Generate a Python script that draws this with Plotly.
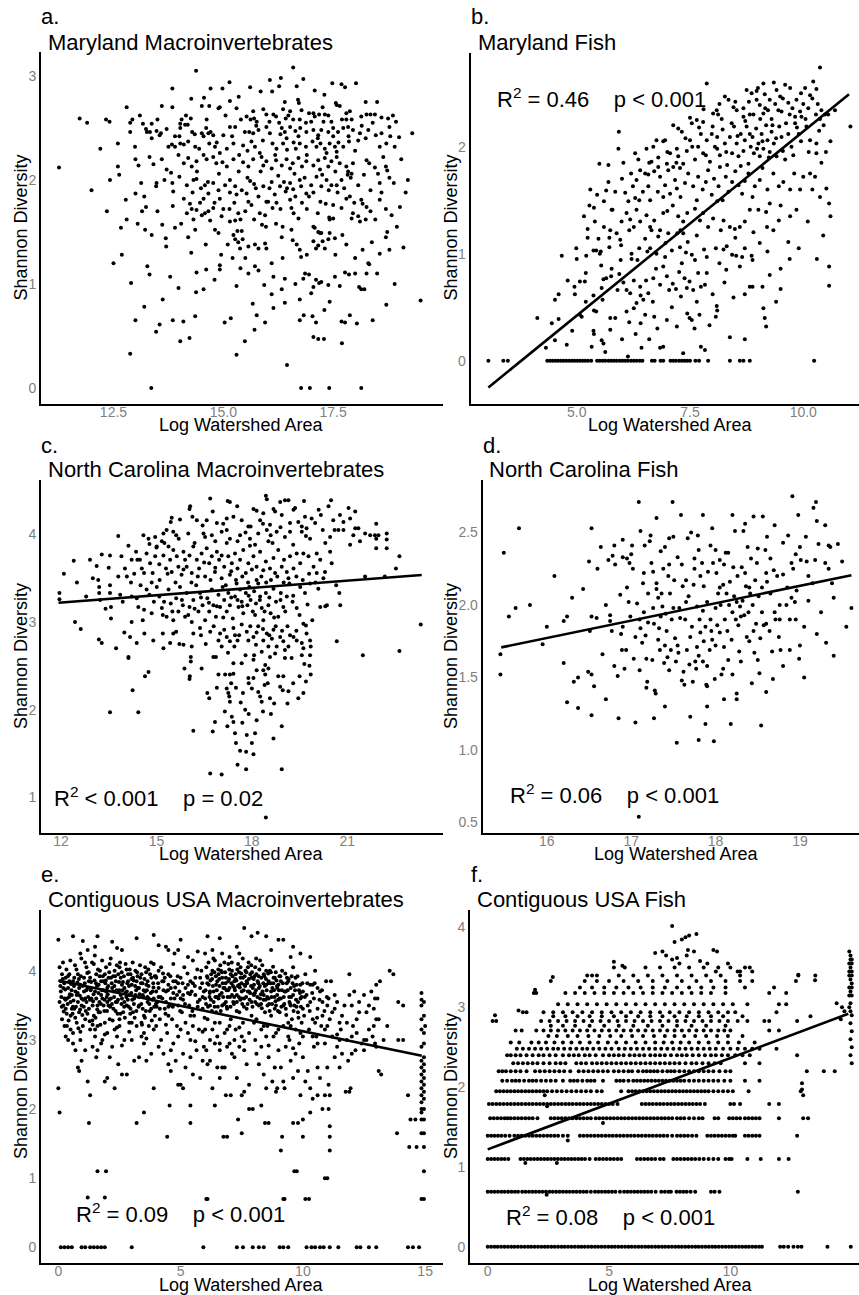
import plotly.graph_objects as go

W, H = 859, 1295
FONT = "Liberation Sans, Arial, Helvetica, sans-serif"
TICK_GREY = "#7f7f7f"

# ---------------- a. Maryland Macroinvertebrates ----------------
a_points = [
    (14.38,3.05),(16.59,3.08),(16.31,2.98),(16.06,2.96),(16.82,2.97),(15.14,2.94),(14.98,2.88),(14.71,2.88),
    (13.84,2.88),(15.61,2.89),(16.27,2.90),(16.11,2.85),(16.67,2.90),(17.08,2.86),(17.48,2.93),(17.69,2.92),
    (17.77,2.89),(18.02,2.93),(14.56,2.79),(14.27,2.78),(15.15,2.76),(16.70,2.77),(16.72,2.74),(17.56,2.74),
    (18.24,2.75),(12.80,2.70),(13.60,2.71),(13.84,2.70),(14.51,2.71),(14.68,2.71),(14.89,2.69),(14.92,2.70),
    (15.30,2.69),(15.68,2.66),(15.91,2.68),(16.14,2.63),(16.36,2.68),(16.52,2.66),(16.78,2.67),(17.05,2.64),
    (17.26,2.70),(17.39,2.62),(17.58,2.72),(17.65,2.71),(17.80,2.64),(17.88,2.66),(11.73,2.59),(12.33,2.58),
    (12.41,2.56),(12.88,2.55),(12.93,2.58),(13.17,2.54),(13.37,2.54),(14.02,2.54),(14.05,2.58),(14.26,2.59),
    (15.53,2.61),(15.62,2.58),(15.70,2.59),(15.76,2.56),(15.98,2.63),(16.20,2.61),(16.27,2.55),(16.42,2.59),
    (16.59,2.58),(16.74,2.58),(16.88,2.55),(17.08,2.61),(17.18,2.63),(17.31,2.63),(17.46,2.56),(17.80,2.58),
    (17.92,2.58),(18.14,2.61),(18.26,2.63),(18.35,2.63),(18.45,2.63),(18.86,2.62),(18.75,2.59),
    (12.88,2.46),(13.24,2.49),(13.26,2.46),(13.33,2.46),(13.48,2.47),(13.55,2.43),(13.58,2.45),(13.71,2.49),
    (13.90,2.42),(14.02,2.50),(14.13,2.53),(14.19,2.53),(14.29,2.46),(14.51,2.45),(14.55,2.42),(14.61,2.50),
    (14.66,2.45),(14.71,2.46),(14.77,2.43),(15.00,2.43),(15.15,2.51),(15.27,2.51),(15.49,2.46),(15.59,2.46),
    (15.68,2.45),(15.80,2.48),(15.98,2.51),(16.06,2.45),(16.33,2.50),(16.40,2.46),(16.44,2.40),(16.52,2.51),
    (16.64,2.47),(16.71,2.42),(16.89,2.46),(17.05,2.48),(17.16,2.43),(17.23,2.48),(17.39,2.46),(17.50,2.42),
    (17.61,2.46),(17.73,2.50),(17.84,2.51),(17.95,2.48),(18.11,2.45),(18.30,2.48),(18.47,2.43),(18.93,2.56),
    (18.78,2.51),(19.00,2.41),(18.90,2.32),
    (12.99,2.32),(13.37,2.40),(13.83,2.34),(13.90,2.32),(14.02,2.35),(14.10,2.34),(14.20,2.37),(14.36,2.32),
    (14.45,2.30),(14.68,2.35),(14.81,2.32),(15.08,2.30),(15.23,2.35),(15.45,2.33),(15.64,2.37),(15.72,2.32),
    (15.83,2.26),(16.12,2.35),(16.21,2.30),(16.36,2.35),(16.45,2.29),(16.65,2.30),(16.74,2.35),(16.88,2.32),
    (17.03,2.37),(17.12,2.32),(17.21,2.35),(17.31,2.30),(17.42,2.35),(17.54,2.32),(17.58,2.27),(17.73,2.32),
    (17.86,2.37),(18.07,2.38),(18.24,2.40),(18.56,2.32),(18.71,2.35),
    (11.26,2.12),(12.60,2.13),(12.63,2.05),(13.07,2.14),(13.32,2.22),(13.41,2.15),(13.71,2.10),(13.81,2.07),
    (13.98,2.24),(14.10,2.16),(14.20,2.21),(14.28,2.13),(14.39,2.18),(14.55,2.24),(14.62,2.20),(14.77,2.22),
    (14.84,2.16),(14.92,2.26),(14.98,2.17),(15.08,2.13),(15.23,2.20),(15.36,2.24),(15.45,2.17),(15.57,2.13),
    (15.68,2.20),(15.87,2.22),(15.91,2.14),(15.98,2.18),(16.10,2.11),(16.20,2.19),(16.33,2.14),(16.44,2.20),
    (16.52,2.11),(16.58,2.16),(16.71,2.21),(16.79,2.13),(16.89,2.18),(17.05,2.14),(17.16,2.19),(17.20,2.10),
    (17.31,2.21),(17.39,2.13),(17.46,2.18),(17.58,2.22),(17.65,2.16),(17.80,2.13),(17.84,2.08),(17.92,2.06),
    (17.95,2.16),(18.26,2.19),(18.32,2.16),(18.64,2.22),(18.70,2.13),(18.73,2.09),(18.52,2.06),
    (12.42,2.00),(13.00,1.87),(13.13,1.97),(13.20,1.84),(13.47,1.94),(13.48,1.97),(13.66,2.00),(13.84,1.97),
    (13.86,1.89),(14.00,2.03),(14.17,1.95),(14.32,2.00),(14.39,2.01),(14.49,1.92),(14.58,1.95),(14.66,1.87),
    (14.77,1.97),(14.89,1.90),(14.92,1.82),(15.04,1.95),(15.15,2.00),(15.27,1.94),(15.30,1.86),(15.42,1.90),
    (15.53,1.87),(15.61,1.99),(15.74,1.92),(15.80,1.84),(15.91,1.94),(15.98,1.79),(16.10,1.98),(16.17,1.86),
    (16.29,1.94),(16.38,1.98),(16.42,1.89),(16.52,1.97),(16.59,1.91),(16.64,1.84),(16.74,2.00),(16.77,1.94),
    (16.89,1.87),(17.00,1.95),(17.12,2.03),(17.23,1.94),(17.35,2.00),(17.46,1.95),(17.58,1.95),(17.69,2.00),
    (17.83,2.05),(18.07,1.95),(18.35,1.90),(18.56,1.97),(18.78,2.02),(18.88,1.97),(19.15,1.88),
    (12.78,1.81),(12.80,1.62),(12.67,1.54),(13.05,1.58),(13.24,1.74),(13.22,1.52),(13.37,1.47),(13.50,1.70),
    (13.61,1.57),(13.90,1.54),(14.04,1.58),(14.17,1.68),(14.24,1.77),(14.28,1.72),(14.32,1.62),(14.36,1.52),
    (14.39,1.71),(14.47,1.78),(14.51,1.66),(14.58,1.68),(14.66,1.70),(14.70,1.61),(14.77,1.73),(14.81,1.52),
    (14.89,1.49),(14.96,1.65),(15.14,1.72),(15.15,1.60),(15.27,1.61),(15.34,1.68),(15.32,1.51),(15.39,1.62),
    (15.42,1.51),(15.57,1.79),(15.64,1.76),(15.83,1.68),(15.88,1.57),(15.97,1.55),(16.02,1.79),(16.12,1.73),
    (16.21,1.78),(16.52,1.81),(16.55,1.73),(16.71,1.63),(16.79,1.78),(16.95,1.84),(17.21,1.79),(17.33,1.77),
    (17.41,1.64),(17.42,1.62),(17.50,1.63),(17.50,1.76),(17.69,1.73),(17.80,1.82),(17.88,1.84),(17.92,1.63),
    (17.95,1.68),(18.07,1.65),(18.11,1.60),(18.14,1.81),(18.17,1.77),(18.26,1.74),(18.24,1.62),(18.46,1.62),
    (18.56,1.81),(18.83,1.66),(19.02,1.74),(18.73,1.50),(17.05,1.55),(17.16,1.50),(17.23,1.49),
    (13.69,1.44),(13.70,1.36),(14.27,1.30),(15.23,1.47),(15.27,1.43),(15.34,1.40),(15.38,1.34),(15.44,1.43),
    (15.57,1.36),(15.72,1.38),(15.80,1.34),(15.95,1.39),(15.98,1.34),(16.33,1.45),(16.55,1.52),(16.58,1.42),
    (16.67,1.38),(16.74,1.33),(16.77,1.26),(17.08,1.54),(17.05,1.41),(17.11,1.34),(17.16,1.37),(17.20,1.49),
    (17.26,1.41),(17.31,1.34),(17.39,1.43),(17.42,1.49),(17.54,1.44),(17.71,1.47),(18.17,1.33),(18.38,1.40),
    (18.56,1.29),(18.70,1.45),(18.78,1.33),(12.69,1.28),(15.21,1.25),(18.30,1.20),
    (13.27,1.17),(13.32,1.09),(12.90,1.01),(13.79,1.07),(13.98,0.96),(14.39,1.11),(14.61,1.14),(14.80,1.04),
    (14.92,1.18),(14.92,1.14),(15.39,1.15),(15.57,1.10),(15.72,1.17),(15.80,1.13),(15.93,0.99),(16.10,1.20),
    (16.14,1.07),(16.33,0.95),(16.64,1.00),(16.82,1.05),(16.86,1.10),(16.95,1.09),(17.05,0.97),(17.11,1.04),
    (17.18,1.01),(17.23,1.02),(17.39,0.99),(17.54,1.07),(17.65,0.98),(17.77,1.11),(17.86,1.09),(18.09,0.97),
    (18.14,0.95),(18.21,0.95),(18.26,1.10),(18.32,1.19),(14.38,0.92),(13.62,0.85),(16.10,0.90),(16.74,0.85),
    (17.00,0.91),(17.42,0.83),(18.71,0.80),(19.49,0.84),(15.67,0.81),
    (16.14,0.77),(16.40,0.82),(16.74,0.65),(16.83,0.70),(17.03,0.69),(17.11,0.63),(13.85,0.65),(14.09,0.64),
    (14.36,0.69),(15.03,0.63),(15.17,0.67),(15.76,0.70),(15.95,0.63),(15.71,0.56),(17.69,0.64),(17.77,0.63),
    (17.88,0.70),(18.04,0.62),(13.55,0.61),(13.47,0.54),(14.02,0.45),(14.23,0.48),(15.49,0.45),(15.30,0.32),
    (17.05,0.49),(17.16,0.47),(17.29,0.47),(17.70,0.43),(12.88,0.33),(16.45,0.22),
    (13.36,0.0),(16.77,0.0),(16.97,0.0),(17.41,0.0),(18.14,0.0),
    (14.15,2.62),(14.35,2.44),(14.62,2.58),(14.85,2.36),(15.05,2.62),(15.20,2.42),(15.40,2.58),(15.55,2.28),
    (15.75,2.52),(15.90,2.38),(16.05,2.56),(16.18,2.24),(16.30,2.44),(16.48,2.62),(16.60,2.36),(16.75,2.50),
    (16.90,2.24),(17.00,2.56),(17.15,2.40),(17.28,2.56),(17.35,2.26),(17.50,2.50),(17.62,2.36),(17.70,2.58),
    (17.85,2.42),(18.00,2.28),(18.15,2.52),(18.40,2.55),(18.60,2.45),(18.80,2.42),
    (14.40,2.08),(14.65,1.98),(14.90,2.06),(15.15,1.88),(15.35,2.08),(15.55,2.02),(15.70,1.96),(15.85,2.08),
    (16.05,1.92),(16.25,2.04),(16.45,1.92),(16.62,2.06),(16.85,2.02),(17.05,1.88),(17.25,2.05),(17.40,1.90),
    (17.55,2.08),(17.75,1.92),(17.90,2.02),(18.20,2.05),(18.45,2.12),(18.60,1.88),
    (14.10,1.82),(14.30,1.88),(14.55,1.82),(14.80,1.78),(15.00,1.72),(15.25,1.78),(15.50,1.70),(15.70,1.62),
    (15.95,1.66),(16.30,1.72),(16.60,1.68),(16.90,1.72),(17.15,1.68),(17.60,1.88),(17.98,1.78),(18.35,1.70),
    (18.70,1.72),(14.00,2.42),(13.75,2.32),(13.50,2.58),(13.10,2.62),(12.60,2.35),(13.00,2.20),(13.60,2.20),
    (13.15,1.70),(13.85,1.75),(14.20,1.45),(14.60,1.38),(14.95,1.28),(15.10,1.38),(16.35,1.25),(16.90,1.28),
    (17.55,1.28),(17.80,1.38),(18.00,1.25),(18.50,1.10),(18.90,1.00),(16.40,1.05),(15.30,0.98),(14.55,0.95),
    (17.30,0.75),(18.40,0.65),(13.20,0.78),(18.00,1.10),(16.20,1.58),(16.35,1.55),(15.50,1.25),(16.95,2.64),
    (16.40,2.75),(15.35,2.80),(15.85,2.85),(17.30,2.82),(18.50,2.75),(18.60,2.60),(19.05,2.20),(19.20,2.00),
    (18.95,1.55),(19.10,1.35),(19.30,2.45),(12.20,2.30),(12.00,1.90),(12.35,1.70),(11.90,2.55),(12.50,1.20),
    (13.00,0.65),
]

# ---------------- b. Maryland Fish ----------------
b_points = [
    (4.32,0.12),(4.52,0.19),(4.78,0.15),(4.13,0.40),(4.60,0.39),(4.52,0.57),(5.07,0.43),(5.11,0.41),(5.37,0.28),
    (5.38,0.25),(5.55,0.19),(5.59,0.16),(5.63,0.08),(5.33,0.13),(5.74,0.29),(6.13,0.04),(6.43,0.12),(6.84,0.12),
    (6.91,0.13),(7.35,0.07),(7.74,0.13),(7.83,0.10),(8.38,0.22),(8.71,0.20),(5.38,0.47),(5.43,0.46),(5.57,0.57),
    (5.74,0.40),(5.85,0.40),(6.10,0.46),(6.16,0.36),(6.26,0.49),(6.41,0.35),(6.51,0.43),(6.71,0.41),(6.78,0.30),
    (6.99,0.38),(7.21,0.32),(7.44,0.44),(7.49,0.40),(7.54,0.38),(7.71,0.43),(7.93,0.33),(8.07,0.41),(8.10,0.47),
    (9.12,0.49),(9.15,0.40),(9.18,0.32),
    (4.95,0.69),(4.96,0.62),(5.07,0.74),(5.18,0.74),(4.67,0.98),(4.99,1.05),(5.21,0.98),(5.37,1.03),(5.43,1.03),
    (5.53,1.02),(5.37,0.61),(5.54,0.89),(5.59,0.76),(5.55,0.68),(5.65,0.77),(5.77,0.86),(5.76,0.79),(5.90,0.66),
    (5.94,0.81),(5.97,0.94),(6.03,0.73),(6.10,0.66),(6.18,0.63),(6.21,0.95),(6.26,0.75),(6.32,0.54),(6.40,0.69),
    (6.41,0.61),(6.47,0.57),(6.53,0.75),(6.58,0.63),(6.68,0.55),(6.69,0.77),(6.75,0.86),(6.84,0.71),(6.91,0.88),
    (6.99,0.79),(7.04,0.66),(7.12,0.72),(7.19,0.67),(7.26,0.83),(7.32,0.91),(7.38,0.77),(7.43,0.68),(7.49,0.74),
    (7.57,0.66),(7.65,0.55),(7.68,0.82),(7.74,0.69),(7.83,0.71),(7.87,0.82),(8.09,0.51),(8.26,0.73),(8.46,0.59),
    (8.60,0.88),(8.71,0.62),(8.82,0.69),(8.88,0.69),(9.10,0.69),(9.26,0.80),(9.50,0.86),(9.50,0.67),(10.57,0.88),
    (10.57,0.70),
    (5.24,1.15),(5.48,1.14),(5.51,1.00),(5.72,1.06),(5.88,1.19),(5.98,1.08),(6.16,1.22),(6.21,1.00),(6.34,0.94),
    (6.38,1.05),(6.51,1.14),(6.56,1.02),(6.62,1.05),(6.76,1.00),(6.80,1.16),(6.95,0.97),(7.02,1.19),(7.10,1.03),
    (7.22,1.19),(7.28,1.06),(7.35,1.19),(7.41,1.01),(7.45,1.11),(7.54,0.99),(7.61,0.94),(7.65,1.17),(7.81,1.04),
    (7.87,0.97),(8.07,1.05),(8.15,0.91),(8.24,1.04),(8.31,1.07),(8.43,0.99),(8.52,0.98),(8.65,0.97),(8.71,1.05),
    (8.86,0.98),(8.88,0.94),(9.04,1.10),(9.21,1.02),(9.67,1.11),(10.44,1.17),(5.74,1.22),(5.72,1.15),(5.96,1.13),
    (6.65,1.22),(6.96,1.10),
    (5.16,1.35),(5.24,1.23),(5.38,1.43),(5.40,1.30),(5.60,1.25),(5.77,1.41),(5.99,1.30),(6.10,1.38),(6.18,1.32),
    (6.26,1.25),(6.32,1.41),(6.40,1.30),(6.54,1.36),(6.62,1.25),(6.71,1.31),(6.84,1.22),(6.91,1.38),(7.00,1.40),
    (7.12,1.45),(7.24,1.35),(7.29,1.22),(7.35,1.30),(7.44,1.38),(7.61,1.42),(7.72,1.31),(7.79,1.38),(7.90,1.25),
    (8.01,1.33),(8.10,1.49),(8.18,1.22),(8.24,1.31),(8.38,1.25),(8.49,1.23),(8.60,1.25),(8.71,1.30),(8.82,1.41),
    (9.01,1.41),(9.18,1.39),(9.34,1.22),(9.46,1.31),(9.71,1.35),(9.85,1.41),
    (5.60,1.49),(5.65,1.59),(5.70,1.67),(5.79,1.41),(6.07,1.57),(6.14,1.49),(6.24,1.63),(6.29,1.52),(6.32,1.69),
    (6.38,1.50),(6.46,1.58),(6.51,1.75),(6.58,1.63),(6.62,1.50),(6.65,1.86),(6.71,1.77),(6.79,1.58),(6.84,1.72),
    (6.91,1.53),(6.95,1.64),(7.02,1.78),(7.06,1.56),(7.17,1.69),(7.21,1.61),(7.28,1.80),(7.29,1.53),(7.39,1.66),
    (7.46,1.75),(7.57,1.63),(7.65,1.50),(7.68,1.72),(7.78,1.60),(7.85,1.67),(7.90,1.78),(7.98,1.55),(8.03,1.70),
    (8.13,1.63),(8.16,1.81),(8.22,1.50),(8.29,1.72),(8.35,1.58),(8.43,1.67),(8.50,1.77),(8.57,1.64),(8.65,1.56),
    (8.71,1.68),(8.79,1.75),(8.88,1.53),(8.93,1.63),(9.04,1.69),(9.10,1.80),(9.21,1.60),(9.26,1.47),(9.34,1.75),
    (9.46,1.63),(9.56,1.67),(9.71,1.60),(9.93,1.60),(10.00,1.72),(10.15,1.75),(10.26,1.72),(10.37,1.53),
    (10.51,1.61),(10.57,1.47),(5.28,1.45),
    (5.70,1.83),(6.03,1.85),(5.92,1.98),(6.29,1.94),(6.36,1.88),(6.54,1.98),(6.58,1.74),(6.69,2.00),(6.76,2.06),
    (6.80,1.81),(6.91,2.05),(6.99,1.84),(7.06,1.94),(7.13,1.81),(7.21,1.98),(7.24,1.91),(7.32,2.14),(7.35,1.84),
    (7.43,1.96),(7.50,2.06),(7.54,2.22),(7.61,1.88),(7.68,2.00),(7.74,2.12),(7.79,1.94),(7.87,2.06),(7.94,1.86),
    (8.00,2.19),(8.05,2.00),(8.10,2.09),(8.16,1.92),(8.22,2.16),(8.27,2.03),(8.32,1.83),(8.38,2.09),(8.43,1.94),
    (8.47,2.19),(8.53,2.03),(8.57,1.91),(8.62,2.12),(8.68,1.96),(8.71,2.06),(8.75,2.19),(8.79,1.84),(8.84,2.00),
    (8.88,2.09),(8.91,1.94),(8.96,2.17),(9.01,2.03),(9.04,1.91),(9.08,2.12),(9.12,1.98),(9.18,2.20),(9.21,2.06),
    (9.26,1.95),(9.30,2.14),(9.35,2.03),(9.41,1.91),(9.47,2.19),(9.52,2.09),(9.60,1.88),(9.67,2.12),(9.74,2.00),
    (9.82,2.22),(9.90,2.12),(9.96,2.28),(10.07,2.19),(10.15,2.06),(10.29,2.03),(10.29,1.94),(10.35,2.15),
    (10.37,2.26),(10.70,2.34),(11.04,2.19),(5.93,2.14),(5.50,1.84),
    (7.87,2.59),(8.27,2.47),(8.01,2.31),(8.12,2.30),(7.65,2.25),(7.79,2.23),(8.46,2.37),(8.53,2.34),(8.68,2.36),
    (8.75,2.53),(8.86,2.50),(8.97,2.44),(9.04,2.39),(9.12,2.31),(9.15,2.49),(9.22,2.34),(9.26,2.44),(9.30,2.26),
    (9.38,2.40),(9.41,2.53),(9.49,2.47),(9.52,2.33),(9.60,2.58),(9.67,2.41),(9.71,2.55),(9.76,2.36),(9.82,2.28),
    (9.85,2.44),(9.93,2.33),(10.00,2.40),(10.04,2.55),(10.11,2.36),(10.22,2.61),(10.29,2.54),(10.28,2.30),
    (10.37,2.74),(10.40,2.34),(10.48,2.30),(9.12,2.59),(8.97,2.52),(8.35,2.44),(8.09,2.34),(7.50,2.27),
    (7.24,2.17),(7.13,2.20),(6.95,2.06),(8.68,2.28),(8.82,2.30),
    (7.55,2.00),(7.70,2.18),(7.85,1.92),(7.98,2.12),(8.10,1.98),(8.20,2.26),(8.30,1.95),(8.42,2.22),(8.55,2.10),
    (8.62,1.82),(8.72,2.24),(8.82,2.12),(8.90,2.30),(8.98,1.98),(9.05,2.26),(9.10,2.05),(9.16,2.36),(9.24,1.90),
    (9.32,2.20),(9.40,2.08),(9.45,2.34),(9.55,1.96),(9.62,2.22),(9.70,2.30),(9.78,1.92),(9.86,2.18),(9.95,2.05),
    (10.05,2.26),(10.12,1.95),(10.20,2.45),(10.32,2.40),(10.45,2.20),(10.55,2.30),(8.50,2.42),(8.80,2.42),
    (9.00,2.55),(9.35,2.60),(9.55,2.45),(9.95,2.50),(10.15,2.48),(8.15,2.40),(7.80,2.35),(7.40,2.08),(7.20,1.85),
    (7.00,1.95),(6.80,1.90),(6.60,1.85),(6.40,1.78),(6.20,1.75),(6.00,1.70),(5.85,1.58),(5.45,1.55),(5.30,1.60),
    (5.20,0.82),(5.00,0.95),(4.80,0.75),(4.60,0.62),(4.45,0.35),(4.90,0.28),(5.20,0.55),(6.00,0.20),(6.30,0.25),
    (6.60,0.20),(7.10,0.50),(7.30,0.60),(7.60,0.30),(8.00,0.62),(8.30,0.85),(8.50,1.15),(8.90,1.20),(9.20,1.25),
    (9.50,1.45),(9.90,1.05),(10.10,1.30),(10.30,0.95),(10.60,1.35),(10.20,1.60),(9.70,0.95),(9.40,0.55),
    (9.80,1.75),(10.40,1.85),(10.60,2.05),(10.50,1.95),
]
# sites with zero fish diversity
b_zero_x = [3.05,3.38,3.48,4.35,4.41,4.47,4.53,4.59,4.65,4.71,4.77,4.83,4.89,4.95,5.01,5.07,5.13,5.19,5.25,
            5.32,5.45,5.51,5.57,5.63,5.70,5.76,5.82,5.88,5.95,6.01,6.07,6.13,6.20,6.26,6.32,6.39,6.45,6.66,6.72,
            6.85,6.91,7.07,7.13,7.19,7.26,7.32,7.38,7.44,7.50,7.62,7.70,7.90,8.38,8.60,8.68,8.82,10.24]
b_fit_x = [3.05, 11.01]
b_fit_y = [-0.25, 2.49]

# ---------------- c. North Carolina Macroinvertebrates ----------------
c_points = [
    (16.69,4.41),(18.44,4.44),(18.47,4.40),(17.24,4.38),(17.31,4.37),(16.06,4.32),(16.04,4.29),(16.77,4.26),
    (17.54,4.32),(18.05,4.29),(18.15,4.27),(18.68,4.29),(18.73,4.26),(18.89,4.37),(19.04,4.39),(19.15,4.39),
    (19.31,4.28),(19.36,4.30),(19.64,4.38),(19.67,4.20),(19.88,4.18),(20.17,4.22),(20.49,4.39),(20.41,4.32),
    (20.77,4.22),(21.04,4.30),(21.25,4.26),(21.09,4.18),(20.88,4.14),(15.48,4.19),(15.45,4.14),(15.74,4.17),
    (16.13,4.20),(16.27,4.16),(16.58,4.16),(16.90,4.13),(17.21,4.18),(17.42,4.20),(17.68,4.16),(17.89,4.09),
    (17.96,4.09),(18.26,4.16),(18.36,4.24),(18.57,4.11),(18.94,4.22),(19.20,4.13),(19.46,4.14),(19.57,4.09),
    (19.72,4.07),(19.99,4.13),(20.23,4.05),(20.56,4.16),(20.72,4.05),(20.88,4.05),(21.25,4.07),(21.35,4.07),
    (21.91,4.12),(21.19,3.99),(21.56,4.01),(21.72,3.99),(21.87,3.99),(21.98,3.99),(22.24,4.01),(22.24,3.94),
    (21.91,3.95),(21.09,3.88),(21.91,3.84),(22.24,3.84),(22.64,3.75),(22.53,3.61),(21.56,3.52),(22.18,3.52),
    (23.31,2.97),(22.64,2.67),(21.49,2.62),(20.67,2.78),(13.80,3.98),(14.59,3.99),(14.75,3.95),(14.96,3.97),
    (15.22,4.01),(15.32,4.05),(15.53,4.03),(15.62,3.99),(16.00,4.01),(16.48,4.01),(16.53,3.97),(16.74,3.99),
    (17.05,4.03),(17.21,4.05),(17.31,3.95),(17.63,3.99),(17.94,3.95),(18.20,4.01),(18.47,4.05),(18.59,3.99),
    (18.78,4.03),(19.04,3.97),(19.20,4.03),(19.57,4.03),(19.83,3.95),(20.46,3.97),
    (12.91,3.71),(13.12,3.64),(13.28,3.77),(13.54,3.76),(14.12,3.87),(13.17,3.48),(13.20,3.40),(13.54,3.42),
    (13.80,3.52),(14.01,3.61),(14.07,3.52),(14.22,3.71),(14.36,3.80),(14.40,3.71),(14.48,3.71),(14.54,3.61),
    (14.61,3.56),(14.69,3.78),(14.78,3.89),(14.80,3.67),(14.88,3.56),(14.96,3.75),(15.01,3.86),(15.09,3.66),
    (15.17,3.92),(15.22,3.76),(15.30,3.61),(15.38,3.86),(15.43,3.71),(15.48,3.57),(15.53,3.82),(15.64,3.75),
    (15.69,3.63),(15.79,3.54),(15.85,3.80),(15.90,3.71),(15.95,3.63),(16.04,3.76),(16.11,3.56),(16.16,3.86),
    (16.27,3.71),(16.34,3.61),(16.42,3.78),(16.53,3.52),(16.58,3.84),(16.66,3.67),(16.74,3.75),(16.84,3.57),
    (16.90,3.80),(16.97,3.71),(17.05,3.76),(17.13,3.63),(17.21,3.90),(17.26,3.75),(17.31,3.54),(17.37,3.67),
    (17.47,3.78),(17.55,3.61),(17.63,3.71),(17.73,3.82),(17.81,3.56),(17.89,3.67),(17.94,3.87),(18.05,3.75),
    (18.15,3.63),(18.26,3.80),(18.36,3.59),(18.44,3.69),(18.52,3.92),(18.57,3.61),(18.68,3.73),(18.73,3.56),
    (18.83,3.82),(18.94,3.63),(19.01,3.71),(19.10,3.57),(19.20,3.75),(19.31,3.61),(19.41,3.78),(19.52,3.67),
    (19.62,3.78),(19.78,3.75),(19.94,3.63),(20.04,3.78),(20.15,3.71),(20.31,3.90),(20.46,3.80),(20.51,3.67),
    (20.30,3.57),(20.04,3.56),
    (11.95,3.33),(11.95,3.26),(12.09,3.55),(12.79,3.29),(12.44,3.00),(12.62,2.92),(13.20,3.33),(13.23,3.25),
    (13.54,3.33),(13.57,3.17),(13.57,3.04),(13.86,3.31),(13.94,3.23),(14.22,3.29),(14.22,3.00),(14.38,3.27),
    (14.43,3.17),(14.57,3.02),(14.61,3.14),(14.69,3.37),(14.78,3.31),(14.85,3.10),(14.92,3.23),(15.01,3.40),
    (15.09,3.29),(15.17,3.16),(15.24,3.23),(15.32,3.06),(15.38,3.37),(15.45,3.21),(15.53,3.02),(15.62,3.27),
    (15.69,3.12),(15.74,3.40),(15.83,3.19),(15.90,3.06),(15.95,3.33),(16.04,3.17),(16.11,3.00),(16.16,3.25),
    (16.25,3.42),(16.32,3.12),(16.37,3.33),(16.45,3.19),(16.53,3.02),(16.60,3.27),(16.66,3.12),(16.74,3.37),
    (16.79,3.19),(16.87,3.06),(16.95,3.31),(17.00,3.17),(17.08,3.40),(17.13,3.25),(17.21,3.12),(17.26,3.33),
    (17.31,3.19),(17.40,3.04),(17.47,3.29),(17.52,3.44),(17.58,3.17),(17.63,3.37),(17.68,3.23),(17.73,3.10),
    (17.81,3.33),(17.86,3.19),(17.92,3.40),(17.96,3.25),(18.03,3.12),(18.07,3.35),(18.13,3.21),(18.20,3.44),
    (18.26,3.29),(18.31,3.16),(18.36,3.02),(18.44,3.33),(18.52,3.19),(18.59,3.10),(18.68,3.38),(18.76,3.23),
    (18.83,3.06),(18.91,3.33),(18.99,3.17),(19.10,3.29),(19.18,3.44),(19.28,3.23),(19.41,3.16),(19.52,3.40),
    (19.67,3.33),(19.83,3.44),(20.15,3.17),(20.31,3.18),(20.36,3.19),(20.75,3.33),(20.78,3.19),(20.65,3.42),
    (20.09,3.38),(19.90,3.02),(19.62,2.98),
    (13.19,2.80),(13.28,2.76),(13.73,2.70),(13.99,2.88),(14.12,2.60),(14.12,2.59),(14.38,2.76),(14.17,2.83),
    (14.62,2.87),(14.90,2.79),(15.20,2.87),(15.22,2.70),(15.43,2.76),(15.53,2.87),(15.62,2.89),(15.72,2.75),
    (15.85,2.74),(16.08,2.60),(16.11,2.72),(16.16,2.87),(16.37,2.93),(16.42,2.47),(16.69,2.89),(16.79,2.60),
    (16.87,2.60),(16.95,2.79),(17.00,2.87),(17.13,2.91),(17.21,2.83),(17.31,2.78),(17.42,2.93),(17.47,2.85),
    (17.55,2.79),(17.68,2.97),(17.84,2.89),(17.89,2.79),(18.05,2.83),(18.07,2.62),(18.13,2.74),(18.20,2.95),
    (18.31,2.66),(18.36,2.79),(18.42,2.51),(18.47,2.87),(18.52,2.72),(18.57,2.60),(18.63,2.81),(18.68,2.91),
    (18.73,2.64),(18.78,2.72),(18.89,2.83),(18.99,2.78),(19.04,2.68),(19.12,2.95),(19.20,2.85),(19.25,2.59),
    (19.31,2.83),(19.41,2.79),(19.57,2.76),(19.62,2.70),(19.72,2.87),(19.83,2.79),(19.85,2.72),(19.83,2.62),
    (19.57,2.62),(19.04,2.59),(18.52,2.47),(18.36,2.45),(18.05,2.57),(18.15,2.45),(17.68,2.53),(17.42,2.53),
    (17.31,2.40),(17.16,2.40),(16.95,2.40),(16.08,2.55),(16.05,2.38),(16.04,2.35),(15.88,2.47),(14.64,2.38),
    (14.75,2.43),(19.81,2.50),(19.70,2.32),(19.62,2.19),(17.42,2.41),
    (14.25,2.22),(13.54,1.97),(14.43,1.97),(16.16,1.76),(16.60,2.19),(16.66,2.13),(16.84,1.86),(16.77,1.75),
    (17.21,2.24),(17.26,2.19),(17.29,2.15),(17.31,2.09),(17.23,1.81),(17.37,1.92),(17.42,1.86),(17.47,1.73),
    (17.72,2.19),(17.79,2.00),(17.84,1.71),(17.89,2.36),(18.05,2.36),(18.10,1.73),(18.00,2.24),(18.26,2.15),
    (18.31,2.09),(18.42,2.40),(18.57,2.13),(18.70,2.07),(18.83,2.38),(18.89,2.26),(18.99,2.38),(18.97,2.22),
    (19.15,2.21),(19.12,2.07),(19.46,2.13),(18.94,1.81),(18.68,1.67),(17.82,1.52),(17.63,1.53),(18.05,1.49),
    (17.55,1.37),(17.82,1.32),(18.94,1.32),(16.69,1.27),(17.05,1.26),(18.44,0.77),
    (15.10,3.48),(15.35,3.55),(15.60,3.45),(15.85,3.60),(16.10,3.45),(16.30,3.52),(16.50,3.68),(16.70,3.48),
    (16.85,3.62),(17.05,3.50),(17.18,3.42),(17.35,3.58),(17.50,3.48),(17.70,3.52),(17.88,3.45),(18.00,3.60),
    (18.15,3.48),(18.30,3.52),(18.45,3.45),(18.60,3.48),(18.80,3.52),(19.00,3.45),(19.15,3.50),(19.40,3.52),
    (19.60,3.48),(19.80,3.55),(20.00,3.45),(20.25,3.50),
    (15.20,3.08),(15.50,3.12),(15.80,3.25),(16.00,3.08),(16.20,3.15),(16.40,3.28),(16.65,3.22),(16.90,3.18),
    (17.10,3.05),(17.35,3.28),(17.55,3.25),(17.70,3.18),(17.90,3.30),(18.10,3.08),(18.25,3.25),(18.40,3.12),
    (18.55,3.28),(18.70,3.05),(18.90,3.25),(19.05,3.12),(19.30,3.30),(19.50,3.08),(19.75,3.20),
    (16.40,2.85),(16.55,2.75),(16.80,2.95),(17.05,2.72),(17.25,2.65),(17.45,2.72),(17.60,2.85),(17.80,2.62),
    (17.95,2.95),(18.15,2.88),(18.35,2.92),(18.55,2.85),(18.75,2.95),(18.95,2.90),(19.15,2.72),(19.40,2.90),
    (19.70,2.96),(15.00,3.85),(15.25,3.90),(15.70,3.95),(16.20,3.90),(16.45,4.10),(16.85,3.92),(17.10,4.12),
    (17.55,3.92),(17.80,4.02),(18.10,3.88),(18.35,4.12),(18.65,3.90),(18.90,4.08),(19.30,3.88),(19.70,3.98),
    (20.10,4.28),(20.60,4.05),(21.40,3.92),(13.50,3.62),(13.90,3.75),(14.30,3.55),(14.50,3.42),(14.85,3.45),
    (14.20,3.45),(13.40,3.15),(12.50,3.45),(12.40,3.70),(13.00,3.50),
    (17.90,2.30),(18.20,2.20),(18.40,2.28),(17.50,2.25),(17.65,2.08),(17.90,1.95),(18.15,1.88),(18.35,1.98),
    (18.50,2.30),(18.60,1.95),(17.35,2.30),(16.90,2.25),(17.70,1.85),(17.15,1.98),(18.00,1.62),(17.50,1.62),
    (19.30,2.30),(19.50,2.38),(19.65,2.52),(19.85,2.40),
]
c_fit_x = [11.92, 23.34]
c_fit_y = [3.22, 3.536]

# ---------------- d. North Carolina Fish ----------------
d_points = [
    (15.45,1.66),(15.45,1.52),(15.49,2.36),(15.55,1.92),(15.63,1.98),(15.67,2.53),(15.95,1.73),(16.09,2.20),
    (16.20,1.89),(16.24,1.92),(16.24,1.33),(16.32,1.47),(16.37,1.50),(16.37,1.29),(16.43,2.11),(16.49,1.54),
    (16.53,2.53),(16.53,1.92),(16.51,1.82),(16.53,1.52),(16.56,1.44),(16.53,1.24),(16.59,1.91),(16.64,2.40),
    (16.66,1.66),(16.73,2.31),(16.75,1.93),(16.75,1.89),(16.77,1.82),(16.78,2.34),(16.80,2.41),(16.81,2.28),
    (16.84,1.51),(16.85,1.22),(16.87,2.07),(16.88,1.80),(16.89,1.69),(16.90,2.33),(16.92,1.56),(16.94,1.69),
    (16.95,2.32),(16.97,2.02),(16.98,2.29),(16.99,1.92),(17.01,2.41),(17.02,2.25),(17.03,1.63),(17.05,1.19),
    (17.07,2.01),(17.09,2.71),(17.10,1.90),(17.11,1.84),(17.11,2.51),(17.13,1.74),(17.14,2.15),(17.15,1.95),
    (17.16,2.41),(17.17,1.79),(17.18,1.43),(17.18,1.63),(17.19,1.47),(17.20,2.08),(17.22,2.44),(17.23,2.48),
    (17.24,2.29),(17.26,2.23),(17.26,1.98),(17.27,1.87),(17.27,1.22),(17.28,1.41),(17.29,1.39),(17.30,2.11),
    (17.32,2.05),(17.32,1.76),(17.33,1.84),(17.34,1.69),(17.35,2.37),(17.36,2.08),(17.37,1.99),(17.38,2.25),
    (17.39,1.60),(17.40,2.40),(17.41,1.94),(17.42,1.82),(17.43,1.64),(17.44,2.20),(17.45,1.55),(17.45,2.46),
    (17.46,2.08),(17.47,1.69),(17.48,1.90),(17.49,2.71),(17.50,2.47),(17.51,2.17),(17.52,1.77),(17.53,1.61),
    (17.54,1.05),(17.55,2.33),(17.56,1.67),(17.57,1.98),(17.58,1.91),(17.59,2.62),(17.60,1.48),(17.61,2.13),
    (17.62,1.54),(17.63,1.45),(17.64,1.90),(17.65,2.17),(17.66,1.69),(17.67,2.46),(17.68,2.06),(17.69,1.59),
    (17.70,1.23),(17.71,2.50),(17.72,1.85),(17.73,1.47),(17.74,2.14),(17.75,2.32),(17.76,1.61),(17.77,1.56),
    (17.78,1.99),(17.78,1.71),(17.79,2.48),(17.80,1.65),(17.80,1.07),(17.81,1.90),(17.82,2.20),(17.82,1.81),
    (17.84,2.29),(17.85,1.61),(17.86,1.75),(17.86,2.13),(17.88,1.85),(17.88,1.18),(17.89,1.45),(17.90,2.02),
    (17.90,1.44),(17.91,2.23),(17.93,1.69),(17.94,2.41),(17.94,1.90),(17.96,2.53),(17.96,1.76),(17.97,2.29),
    (17.98,1.06),(17.99,1.49),(18.00,1.98),(18.00,2.38),(18.01,2.22),(18.02,1.86),(18.03,2.08),(18.05,2.31),
    (18.05,1.81),(18.06,2.00),(18.07,1.52),(18.09,1.56),(18.09,2.14),(18.10,1.71),(18.11,1.90),(18.12,2.36),
    (18.13,2.08),(18.14,1.82),(18.15,2.36),(18.16,2.00),(18.17,2.16),(18.18,1.18),(18.19,1.76),(18.20,1.95),
    (18.21,2.26),(18.22,2.06),(18.23,2.51),(18.24,1.90),(18.25,1.39),(18.25,1.35),(18.26,2.20),(18.27,1.86),
    (18.28,1.68),(18.29,1.99),(18.30,1.61),(18.31,2.26),(18.32,2.03),(18.33,2.51),(18.34,1.93),(18.35,2.56),
    (18.36,2.13),(18.37,1.78),(18.38,2.40),(18.39,1.95),(18.40,1.75),(18.41,2.08),(18.42,2.32),(18.43,1.46),
    (18.44,2.00),(18.45,2.61),(18.46,1.67),(18.47,2.17),(18.48,1.87),(18.49,2.29),(18.50,2.39),(18.51,2.06),
    (18.52,1.53),(18.53,1.77),(18.54,1.17),(18.55,2.12),(18.56,2.61),(18.57,1.86),(18.59,2.38),(18.60,1.87),
    (18.61,2.16),(18.61,2.47),(18.64,1.82),(18.65,2.32),(18.67,1.68),(18.68,1.49),(18.69,2.24),(18.71,1.90),
    (18.73,2.20),(18.76,2.00),(18.76,1.90),(18.77,1.69),(18.80,2.43),(18.80,2.21),(18.84,2.00),(18.86,2.48),
    (18.88,1.69),(18.88,1.90),(18.90,2.29),(18.91,2.75),(18.92,2.25),(18.94,2.02),(18.95,1.90),(18.96,2.10),
    (18.98,2.62),(18.99,1.63),(19.00,2.40),(19.01,2.31),(19.07,2.47),(19.08,2.30),(19.10,2.03),(19.16,2.67),
    (19.18,2.31),(19.19,2.71),(19.20,1.80),(19.22,2.42),(19.30,2.29),(19.31,1.74),(19.34,2.41),(19.36,2.40),
    (19.38,2.15),(19.34,2.25),(19.61,1.98),(17.09,0.54),
    (16.95,2.12),(17.05,1.78),(17.15,2.22),(17.25,1.62),(17.35,1.92),(17.45,2.28),(17.55,1.72),(17.65,2.02),
    (17.75,2.25),(17.85,1.96),(17.95,1.82),(18.05,2.12),(18.15,1.62),(18.25,2.02),(18.35,2.22),(18.45,1.82),
    (18.55,1.95),(18.65,2.08),(18.75,1.78),(18.85,2.12),(18.95,2.35),(19.05,1.85),(19.15,2.15),(19.25,1.95),
    (19.40,2.05),(19.50,2.30),(19.55,1.85),
    (16.60,2.25),(16.70,2.00),(16.80,1.58),(16.90,1.85),(17.00,2.35),(17.10,1.55),(17.20,1.88),(17.30,2.15),
    (17.40,1.72),(17.50,1.98),(17.60,2.28),(17.70,1.78),(17.80,2.38),(17.90,1.58),(18.00,1.72),(18.10,2.28),
    (18.20,1.52),(18.30,1.92),(18.40,2.12),(18.50,1.62),(18.60,2.22),(18.70,1.95),(18.80,1.58),(18.90,2.05),
    (19.00,1.72),(19.10,2.20),(19.30,2.55),(19.45,2.42),(19.20,2.58),(18.70,2.55),(18.20,2.62),(17.85,2.62),
    (17.30,2.60),(16.90,2.45),(16.50,2.30),(16.30,2.05),(16.00,1.85),(16.20,1.60),(15.80,2.00),(16.70,1.35),
    (17.40,1.30),(17.90,1.30),(18.10,1.35),(18.60,1.40),(19.05,1.50),(19.40,1.65),
]
d_fit_x = [15.46, 19.61]
d_fit_y = [1.708, 2.205]

# ---------------- e. Contiguous USA Macroinvertebrates ----------------
e_points = [
    (0.00,4.45),(0.60,4.50),(1.00,4.43),(1.60,4.50),(2.20,4.42),(3.20,4.47),(3.90,4.52),(4.40,4.35),(5.00,4.45),
    (6.10,4.50),(6.60,4.47),(7.30,4.35),(7.60,4.62),(7.90,4.50),(8.15,4.55),(8.50,4.50),(9.00,4.45),(9.20,4.45),
    (9.60,4.35),(9.90,4.25),(10.30,4.20),(0.90,4.25),(1.20,4.30),(1.50,4.35),(2.60,4.30),(4.90,4.30),(5.70,4.28),
    (6.30,4.30),(6.70,4.25),(7.00,4.20),(8.70,4.30),(4.10,4.37),(4.50,4.30),(4.75,4.25),(2.40,4.33),(5.30,4.20),
    (6.00,4.25),(7.40,4.25),(9.50,4.20),
    (0.05,4.05),(0.10,3.85),(0.10,3.70),(0.05,3.55),(0.15,3.30),(0.20,3.50),(0.25,3.60),(0.30,3.90),(0.30,3.45),
    (0.35,3.20),(0.40,3.00),(0.40,3.75),(0.45,3.95),(0.50,3.55),(0.50,3.35),(0.55,3.65),(0.60,3.10),(0.60,3.85),
    (0.65,3.45),(0.70,3.70),(0.70,2.85),(0.75,3.25),(0.80,3.95),(0.80,3.55),(0.85,3.40),(0.90,3.80),(0.90,3.00),
    (0.95,3.60),(0.95,2.70),(0.00,2.30),(0.05,1.95),(0.85,2.55),(0.80,2.60),(0.15,3.95),(0.25,3.20),
    (1.05,3.90),(1.10,3.60),(1.10,3.30),(1.15,4.05),(1.20,3.75),(1.25,3.45),(1.30,3.15),(1.30,3.90),(1.35,3.60),
    (1.40,2.90),(1.45,4.10),(1.45,3.35),(1.50,3.70),(1.55,3.95),(1.60,3.50),(1.60,3.20),(1.65,3.80),(1.70,4.00),
    (1.70,3.40),(1.75,3.65),(1.80,3.00),(1.85,3.85),(1.85,3.50),(1.90,3.25),(1.95,4.05),(1.95,3.70),(1.20,2.40),
    (1.25,1.80),(1.30,2.20),(1.55,2.75),(1.90,2.40),(1.10,2.85),(1.50,3.05),(1.75,2.95),(2.00,3.55),
    (2.05,3.90),(2.10,3.30),(2.10,4.10),(2.15,3.60),(2.20,3.75),(2.25,3.45),(2.30,4.00),(2.30,3.15),(2.35,3.85),
    (2.40,3.55),(2.45,3.70),(2.50,3.30),(2.50,4.05),(2.55,3.90),(2.60,3.60),(2.65,3.40),(2.70,3.75),(2.70,3.00),
    (2.75,4.10),(2.80,3.50),(2.85,3.85),(2.90,3.25),(2.90,3.65),(2.95,3.95),(2.20,2.90),(2.30,2.30),(2.45,2.65),
    (2.60,2.50),(2.80,2.50),(2.40,3.05),(2.10,2.75),(2.00,2.45),
    (3.00,3.80),(3.05,3.40),(3.10,3.60),(3.15,4.00),(3.20,3.20),(3.25,3.75),(3.30,3.50),(3.35,3.90),(3.40,3.05),
    (3.45,3.65),(3.50,3.35),(3.55,4.05),(3.60,3.80),(3.65,3.55),(3.70,3.20),(3.75,3.95),(3.80,3.45),(3.85,3.70),
    (3.90,4.10),(3.95,3.35),(3.10,2.70),(3.30,2.75),(3.50,2.95),(3.80,2.80),(3.20,1.80),(3.50,1.95),(3.90,2.30),
    (3.60,2.70),(3.00,3.00),
    (4.00,3.90),(4.05,3.55),(4.10,3.75),(4.15,3.30),(4.20,4.05),(4.25,3.60),(4.30,3.85),(4.35,3.45),(4.40,3.70),
    (4.45,3.10),(4.50,3.95),(4.55,3.50),(4.60,3.75),(4.65,3.30),(4.70,4.10),(4.75,3.60),(4.80,3.85),(4.85,3.20),
    (4.90,3.50),(4.95,3.70),(4.10,2.90),(4.30,2.80),(4.50,2.65),(4.60,2.55),(4.80,2.70),(4.90,2.35),(4.55,2.05),
    (4.45,1.60),(4.20,3.00),(4.70,2.95),
    (5.00,3.90),(5.05,3.40),(5.10,3.65),(5.15,4.05),(5.20,3.25),(5.30,3.80),(5.35,3.50),(5.40,3.00),(5.45,3.70),
    (5.50,4.15),(5.55,3.35),(5.60,3.90),(5.70,3.55),(5.75,3.15),(5.80,3.75),(5.85,4.00),(5.90,3.45),(5.95,2.90),
    (5.10,2.80),(5.20,2.60),(5.40,2.75),(5.50,2.50),(5.65,2.85),(5.90,2.70),(5.40,2.05),(5.40,1.80),(5.10,2.30),
    (5.80,2.45),(5.00,2.35),(5.30,3.10),
    (6.00,3.60),(6.05,4.05),(6.10,3.30),(6.15,3.80),(6.20,3.50),(6.25,3.95),(6.30,3.15),(6.35,3.70),(6.40,4.15),
    (6.45,3.40),(6.50,3.85),(6.55,3.60),(6.60,3.25),(6.65,4.00),(6.70,3.50),(6.75,3.75),(6.80,3.10),(6.85,3.90),
    (6.90,3.45),(6.95,4.10),(6.05,2.85),(6.10,2.65),(6.20,2.70),(6.30,2.30),(6.40,2.95),(6.50,2.60),(6.60,2.45),
    (6.70,2.60),(6.80,2.60),(6.85,2.20),(6.40,2.05),(6.75,1.60),(6.90,1.60),(6.10,0.70),(6.20,3.00),(6.60,2.85),
    (6.90,2.90),
    (7.00,3.75),(7.05,3.30),(7.10,4.00),(7.15,3.55),(7.20,3.85),(7.25,3.15),(7.30,3.65),(7.35,4.10),(7.40,3.40),
    (7.45,3.90),(7.50,3.60),(7.55,3.25),(7.60,3.80),(7.65,4.00),(7.70,3.45),(7.75,3.70),(7.80,3.10),(7.85,3.95),
    (7.90,3.55),(7.95,3.75),(7.00,2.95),(7.10,2.80),(7.20,2.75),(7.30,2.45),(7.40,2.90),(7.50,2.20),(7.60,2.25),
    (7.70,2.65),(7.80,2.35),(7.35,1.85),(7.50,1.65),(7.80,2.00),(7.95,2.00),(7.20,3.00),(7.05,2.20),(7.60,2.85),
    (8.00,3.65),(8.05,4.05),(8.10,3.30),(8.15,3.85),(8.20,3.50),(8.25,4.15),(8.30,3.15),(8.35,3.70),(8.40,3.95),
    (8.45,3.40),(8.50,3.80),(8.55,3.20),(8.60,3.60),(8.65,4.00),(8.70,3.35),(8.75,3.75),(8.80,3.05),(8.85,3.90),
    (8.90,3.50),(8.95,3.65),(8.10,2.80),(8.20,2.65),(8.30,2.90),(8.40,2.50),(8.50,2.30),(8.60,2.75),(8.75,2.40),
    (8.85,2.60),(8.90,2.25),(8.45,1.80),(8.60,1.80),(8.30,2.05),(8.95,2.30),(8.05,3.00),
    (9.00,3.80),(9.05,3.40),(9.10,3.60),(9.15,4.00),(9.20,3.20),(9.25,3.70),(9.30,3.45),(9.35,3.90),(9.40,3.05),
    (9.45,3.55),(9.50,3.75),(9.55,3.30),(9.60,4.05),(9.65,3.50),(9.70,3.15),(9.75,3.80),(9.80,3.40),(9.85,2.95),
    (9.90,3.60),(9.95,3.25),(9.00,2.85),(9.10,2.60),(9.20,2.40),(9.25,2.30),(9.30,2.90),(9.50,2.70),(9.60,2.45),
    (9.70,2.80),(9.80,2.55),(9.90,2.20),(9.15,1.60),(9.10,1.40),(9.65,1.10),(9.75,1.10),(9.20,0.70),(9.25,0.70),
    (9.60,1.80),(9.80,1.80),(9.45,3.00),
    (10.00,3.70),(10.05,3.35),(10.10,3.95),(10.20,3.50),(10.25,3.15),(10.30,3.80),(10.40,3.30),(10.45,3.60),
    (10.50,4.00),(10.55,3.05),(10.60,3.45),(10.70,3.70),(10.75,3.20),(10.80,3.55),(10.90,2.95),(10.95,3.85),
    (10.00,2.75),(10.10,2.40),(10.20,2.55),(10.30,2.30),(10.40,2.15),(10.45,2.90),(10.60,2.20),(10.60,2.60),
    (10.80,2.00),(10.90,2.20),(10.00,1.85),(10.00,1.60),(10.10,0.70),(10.25,0.70),(10.90,1.00),(11.00,1.00),
    (10.30,1.95),(10.70,2.45),
    (11.05,3.60),(11.10,3.30),(11.15,3.85),(11.20,3.05),(11.30,3.45),(11.40,2.90),(11.50,3.25),(11.60,2.80),
    (11.70,3.50),(11.80,3.00),(11.90,3.65),(11.00,2.60),(11.05,2.35),(11.10,1.75),(11.10,1.60),(11.10,1.40),
    (11.05,2.00),(11.10,2.20),(11.50,2.60),(11.85,2.70),(11.90,2.25),(11.95,2.30),(11.75,2.25),(11.55,3.15),
    (11.30,3.65),(11.90,3.95),
    (12.00,3.50),(12.05,3.20),(12.10,3.70),(12.20,3.30),(12.30,3.55),(12.40,2.95),(12.50,3.65),(12.60,3.40),
    (12.70,3.15),(12.80,3.70),(12.90,3.20),(12.95,2.95),(12.20,3.10),(12.60,3.00),(12.85,3.05),(12.90,3.45),
    (12.95,3.60),(12.00,2.80),(12.15,2.85),(12.50,2.85),
    (13.00,3.80),(13.05,3.60),(13.10,3.30),(13.15,3.85),(13.00,2.90),(13.10,2.55),(13.20,2.50),(13.30,3.00),
    (13.55,4.00),(13.70,3.95),(13.90,3.55),(13.90,3.00),(13.85,1.65),(13.45,3.20),
    (14.10,3.00),(14.40,1.85),(14.35,1.45),(14.60,1.85),(14.65,1.45),(14.30,2.20),(14.10,3.50),
    (14.85,3.68),(14.85,3.58),(14.85,3.50),(14.85,3.30),(14.85,3.15),(14.85,2.90),(14.85,2.70),(14.85,2.60),
    (14.85,2.50),(14.85,2.40),(14.85,2.30),(14.85,2.20),(14.85,2.10),(14.85,2.00),(14.85,1.95),(14.85,1.85),
    (14.85,1.65),(14.85,0.70),(14.95,3.55),(14.95,3.35),(14.95,3.10),(14.95,2.95),(14.95,2.75),(14.95,2.65),
    (14.95,2.55),(14.95,2.45),(14.95,2.35),(14.95,2.25),(14.95,2.15),(14.95,2.00),(14.95,1.85),(14.95,1.65),
    (14.95,1.45),(14.95,1.10),(14.95,0.70),(15.00,3.20),
    (1.60,1.10),(1.95,1.10),(1.20,0.72),(6.05,0.70),(1.90,0.72),
    (0.20,3.75),(0.35,3.60),(0.45,3.85),(0.55,3.45),(0.65,3.90),(0.75,3.65),(0.85,3.75),(0.95,3.50),(1.05,3.70),
    (1.15,3.55),(1.25,3.85),(1.35,3.75),(1.40,3.50),(1.55,3.60),(1.65,3.40),(1.75,3.85),(1.80,3.60),(1.90,3.95),
    (2.00,3.75),(2.05,3.50),(2.15,3.90),(2.25,3.70),(2.35,3.55),(2.45,3.95),(2.55,3.65),(2.60,3.80),(2.70,3.55),
    (2.80,3.70),(2.85,3.95),(2.95,3.45),(3.05,3.90),(3.15,3.65),(3.20,3.85),(3.30,3.75),(3.40,3.95),(3.45,3.45),
    (3.55,3.70),(3.65,3.85),(3.70,3.60),(3.80,3.90),(3.90,3.60),(4.00,3.70),(4.10,4.00),(4.15,3.45),(4.25,3.85),
    (4.35,3.90),(4.40,3.55),(4.50,3.80),(4.60,3.60),(4.70,3.85),(4.85,3.65),(5.00,3.60),(5.20,3.75),(5.40,3.85),
    (5.60,3.65),(5.80,3.90),(5.95,3.70),(6.10,3.90),(6.20,3.70),(6.30,4.00),(6.35,3.55),(6.45,3.80),(6.55,3.95),
    (6.60,3.65),(6.70,3.90),(6.80,3.75),(6.85,3.55),(6.95,3.85),(7.05,3.95),(7.10,3.65),(7.20,3.75),(7.25,3.95),
    (7.30,3.55),(7.40,3.80),(7.45,4.05),(7.50,3.70),(7.55,3.90),(7.60,3.60),(7.70,3.85),(7.75,4.05),(7.80,3.70),
    (7.90,3.90),(8.00,3.80),(8.05,3.55),(8.10,3.95),(8.20,3.75),(8.25,3.60),(8.30,3.90),(8.40,3.65),(8.50,4.00),
    (8.55,3.50),(8.60,3.85),(8.70,3.70),(8.80,3.90),(8.85,3.45),(8.95,3.75),(9.05,3.60),(9.10,3.85),(9.20,3.50),
    (9.30,3.70),(9.40,3.85),(9.50,3.50),(9.60,3.65),(9.70,3.90),(9.80,3.55),(9.90,3.80),(10.00,3.45),(10.15,3.65),
    (10.30,3.55),(10.40,3.80),(10.60,3.75),(10.80,3.35),(11.00,3.50),(11.20,3.40),(11.40,3.55),(11.60,3.35),
    (11.80,3.25),(12.30,3.40),(12.70,3.50),(13.00,3.30),
    (0.50,3.15),(1.00,3.20),(1.50,3.15),(2.00,3.10),(2.50,3.20),(3.00,3.25),(3.50,3.10),(4.00,3.20),(4.50,3.35),
    (5.00,3.15),(5.50,3.20),(6.00,3.15),(6.50,3.05),(7.00,3.20),(7.50,3.05),(8.00,3.25),(8.50,3.05),(9.00,3.15),
    (9.50,3.20),(10.00,3.05),(10.50,3.25),(11.00,3.20),(11.50,3.00),(12.00,3.05),(12.50,3.00),
    (0.12,3.62),(0.18,3.88),(0.22,3.41),(0.28,3.73),(0.33,4.02),(0.38,3.52),(0.42,3.28),(0.47,3.66),(0.52,3.81),
    (0.58,3.38),(0.62,3.57),(0.68,4.08),(0.72,3.48),(0.78,3.83),(0.82,3.17),(0.88,3.64),(0.92,3.92),(0.98,3.36),
    (1.02,3.58),(1.08,3.82),(1.12,3.42),(1.18,3.97),(1.22,3.62),(1.28,3.27),(1.32,3.72),(1.38,4.12),(1.42,3.56),
    (1.48,3.86),(1.52,3.32),(1.58,3.78),(1.62,4.02),(1.68,3.55),(1.72,3.22),(1.78,3.72),(1.82,3.92),(1.88,3.42),
    (1.92,3.82),(1.98,3.62),(2.02,3.66),(2.08,3.98),(2.12,3.48),(2.18,3.82),(2.22,3.28),(2.28,3.62),(2.32,3.92),
    (2.38,3.72),(2.42,3.38),(2.48,3.84),(2.52,4.12),(2.58,3.52),(2.62,3.72),(2.68,3.92),(2.72,3.32),(2.78,3.62),
    (2.82,3.82),(2.88,3.48),(2.92,4.02),(2.98,3.68),(3.02,3.58),(3.08,3.86),(3.12,3.32),(3.18,3.72),(3.22,3.98),
    (3.28,3.48),(3.32,3.66),(3.38,3.82),(3.42,3.22),(3.48,3.62),(3.52,3.88),(3.58,3.42),(3.62,3.72),(3.68,4.02),
    (3.72,3.52),(3.78,3.68),(3.82,3.28),(3.88,3.82),(3.92,3.48),(3.98,3.92),(4.02,3.48),(4.08,3.82),(4.18,3.62),
    (4.28,3.96),(4.38,3.38),(4.48,3.72),(4.58,3.92),(4.68,3.48),(4.78,3.76),(4.88,3.92),(4.98,3.42),(5.08,3.82),
    (5.18,3.52),(5.28,3.96),(5.38,3.66),(5.48,3.42),(5.58,3.78),(5.68,4.02),(5.78,3.58),(5.88,3.82),(5.98,3.32),
    (6.02,3.72),(6.08,3.92),(6.12,3.48),(6.18,3.62),(6.22,3.86),(6.28,3.42),(6.32,3.78),(6.38,3.98),(6.42,3.62),
    (6.48,3.72),(6.52,3.48),(6.58,3.88),(6.62,4.08),(6.68,3.68),(6.72,3.82),(6.78,3.52),(6.82,3.98),(6.88,3.72),
    (6.92,3.62),(6.98,3.88),(7.02,3.62),(7.08,3.82),(7.12,3.92),(7.18,3.52),(7.22,3.72),(7.28,3.86),(7.32,4.02),
    (7.38,3.62),(7.42,3.76),(7.48,3.96),(7.52,3.52),(7.58,3.72),(7.62,3.92),(7.68,3.62),(7.72,3.82),(7.78,4.12),
    (7.82,3.58),(7.88,3.78),(7.92,3.98),(7.98,3.66),(8.02,3.92),(8.08,3.72),(8.12,3.52),(8.18,3.82),(8.22,4.02),
    (8.28,3.66),(8.32,3.46),(8.38,3.82),(8.42,3.92),(8.48,3.58),(8.52,3.72),(8.58,3.96),(8.62,3.52),(8.68,3.82),
    (8.72,3.62),(8.78,4.06),(8.82,3.72),(8.88,3.56),(8.92,3.86),(8.98,3.42),(9.02,3.72),(9.08,3.92),(9.12,3.48),
    (9.18,3.82),(9.22,3.62),(9.28,3.96),(9.32,3.36),(9.38,3.72),(9.42,3.88),(9.48,3.52),(9.52,3.62),(9.58,3.82),
    (9.62,3.42),(9.68,3.72),(9.72,3.58),(9.78,3.92),(9.82,3.32),(9.88,3.68),(9.92,3.48),(9.98,3.82),(10.08,3.62),
    (10.18,3.82),(10.28,3.42),(10.38,3.68),(10.48,3.82),(10.58,3.32),(10.68,3.58),(10.78,3.72),(10.88,3.42),
    (10.98,3.62),(0.30,3.05),(0.90,3.12),(1.40,3.22),(1.90,3.08),(2.40,3.18),(2.90,3.12),(3.40,3.25),(3.90,3.15),
    (4.40,3.22),(4.90,3.05),(5.40,3.35),(5.90,3.12),(6.40,3.25),(6.90,3.15),(7.40,3.18),(7.90,3.35),(8.40,3.20),
    (8.90,3.10),(9.40,3.25),(9.90,3.10),(10.40,3.05),(10.90,3.15),(11.40,3.08),(0.60,2.95),(1.60,2.85),
    (2.60,2.92),(3.60,3.02),(4.60,2.85),(5.60,2.98),(6.60,2.95),(7.60,2.98),(8.60,2.92),(9.60,2.88),(10.60,2.95),
    (11.30,2.75),
]
# densest part of the macroinvertebrate cloud
e_core = [
    (0.08,3.78),(0.14,3.48),(0.19,4.12),(0.24,3.82),(0.29,3.58),(0.34,3.38),(0.39,3.92),(0.44,3.62),(0.49,4.15),
    (0.54,3.72),(0.59,3.48),(0.64,3.78),(0.69,3.32),(0.74,4.02),(0.79,3.68),(0.84,3.88),(0.89,3.44),(0.94,4.18),
    (0.99,3.78),(1.04,3.48),(1.09,4.12),(1.14,3.72),(1.19,3.38),(1.24,3.98),(1.29,3.58),(1.34,3.84),(1.39,3.28),
    (1.44,3.66),(1.49,4.22),(1.54,3.82),(1.59,3.44),(1.64,3.68),(1.69,3.92),(1.74,3.52),(1.79,4.15),(1.84,3.72),
    (1.89,3.58),(1.94,3.86),(1.99,3.42),(2.04,3.78),(2.09,3.58),(2.14,4.18),(2.19,3.52),(2.24,3.92),(2.29,3.78),
    (2.34,3.42),(2.39,4.08),(2.44,3.58),(2.49,3.72),(2.54,3.38),(2.59,3.98),(2.64,3.84),(2.69,3.48),(2.74,3.68),
    (2.79,4.02),(2.84,3.58),(2.89,3.78),(2.94,3.38),(2.99,3.88),(3.04,4.12),(3.09,3.52),(3.14,3.78),(3.19,3.42),
    (3.24,3.92),(3.29,3.62),(3.34,4.08),(3.39,3.52),(3.44,3.82),(3.49,3.72),(3.54,3.32),(3.59,3.98),(3.64,3.62),
    (3.69,3.78),(3.74,3.42),(3.79,4.12),(3.84,3.58),(3.89,3.76),(3.94,3.92),(3.99,3.52),(4.10,3.62),(4.30,3.72),
    (4.50,3.48),(4.70,3.68),(4.90,3.82),(5.10,3.58),(5.30,3.68),(5.50,3.82),(5.70,3.48),(5.90,3.62),
    (6.04,3.52),(6.09,3.82),(6.14,4.12),(6.19,3.68),(6.24,3.58),(6.29,3.88),(6.34,4.18),(6.39,3.48),(6.44,3.92),
    (6.49,3.62),(6.54,4.02),(6.59,3.78),(6.64,3.42),(6.69,3.98),(6.74,3.62),(6.79,4.12),(6.84,3.82),(6.89,3.48),
    (6.94,3.72),(6.99,4.02),(7.04,3.48),(7.09,4.12),(7.14,3.78),(7.19,3.62),(7.24,3.88),(7.29,3.42),(7.34,3.78),
    (7.39,3.98),(7.44,3.58),(7.49,3.82),(7.54,4.18),(7.59,3.48),(7.64,3.78),(7.69,3.98),(7.74,3.52),(7.79,3.88),
    (7.84,3.68),(7.89,4.08),(7.94,3.48),(7.99,3.88),(8.04,3.68),(8.09,4.18),(8.14,3.62),(8.19,3.92),(8.24,3.78),
    (8.29,3.52),(8.34,4.08),(8.39,3.58),(8.44,3.78),(8.49,3.88),(8.54,3.62),(8.59,3.82),(8.64,3.42),(8.69,3.98),
    (8.74,3.52),(8.79,3.82),(8.84,3.62),(8.89,3.98),(8.94,3.78),(8.99,3.58),(9.04,3.92),(9.14,3.72),(9.24,3.52),
    (9.34,3.82),(9.44,3.62),(9.54,3.92),(9.64,3.78),(9.74,3.48),(9.84,3.72),(9.94,3.62),
]
e_zero_x = [0.10,0.25,0.40,0.55,0.95,1.10,1.30,1.45,1.60,1.75,1.90,3.00,5.93,7.30,7.55,7.95,8.20,8.40,9.05,
            9.20,9.40,10.15,10.35,10.50,10.70,10.85,11.10,11.45,12.20,12.35,12.70,13.00,14.30,14.50,14.75]
e_fit_x = [0.0, 14.86]
e_fit_y = [3.86, 2.77]

# ---------------- f. Contiguous USA Fish ----------------
# diversity values fall on discrete levels; each row lists the watershed areas at that level
f_levels = [0.00, 0.69, 1.10, 1.39, 1.61, 1.79, 1.95, 2.08, 2.20, 2.30, 2.40, 2.48, 2.56, 2.64, 2.71, 2.77,
            2.83, 2.89, 2.94, 3.04, 3.18, 3.25, 3.33, 3.40, 3.50]
f_rows = [
    [0.0,0.14,0.28,0.41,0.55,0.69,0.83,0.97,1.1,1.24,1.38,1.52,1.66,1.79,1.93,2.07,2.21,2.35,2.48,2.62,2.76,
     2.9,3.04,3.17,3.31,3.45,3.59,3.73,3.86,4.0,4.14,4.28,4.42,4.55,4.69,4.83,4.97,5.11,5.24,5.38,5.52,5.66,
     5.8,5.93,6.07,6.21,6.35,6.49,6.62,6.76,6.9,7.04,7.18,7.31,7.45,7.59,7.73,7.87,8.0,8.14,8.28,8.42,8.56,
     8.69,8.83,8.97,9.11,9.25,9.38,9.52,9.66,9.8,9.94,10.07,10.21,10.35,10.49,10.63,10.76,10.9,11.04,11.18,
     11.3,12.05,12.2,12.38,12.6,12.78,12.93,14.0,14.96],
    [0.0,0.14,0.28,0.42,0.56,0.7,0.84,0.98,1.12,1.25,1.42,1.56,1.7,1.84,1.98,2.12,2.26,2.4,2.54,2.68,2.82,
     2.96,3.1,3.24,3.38,3.52,3.66,3.8,3.94,4.08,4.25,4.42,4.56,4.7,4.84,4.98,5.12,5.26,5.45,5.62,5.76,5.9,
     6.04,6.18,6.32,6.46,6.6,6.74,6.92,7.15,7.3,7.45,7.55,7.78,7.92,8.06,8.2,8.36,8.55,9.2,9.35,9.55,12.78],
    [0.0,0.14,0.28,0.42,0.56,0.7,0.85,1.35,1.49,1.63,1.77,1.91,2.05,2.19,2.33,2.47,2.61,2.75,2.89,3.03,3.17,
     3.31,3.45,3.59,3.73,3.87,4.01,4.2,4.45,4.6,4.75,4.9,5.05,5.2,5.35,5.5,6.15,6.3,6.45,6.6,6.75,6.9,7.1,
     7.25,7.65,7.8,7.95,8.1,8.25,8.4,8.55,8.72,8.9,9.1,9.3,9.5,9.8,9.95,10.05,10.7,11.25,12.0,12.4],
    [0.0,0.14,0.28,0.42,0.56,0.72,0.9,1.1,1.25,1.4,1.55,1.7,1.85,2.0,2.15,2.3,2.45,2.6,2.75,2.9,3.1,3.3,3.8,
     3.95,4.1,4.25,4.4,4.55,4.7,4.85,5.0,5.15,5.3,5.45,5.6,5.75,5.9,6.05,6.2,6.35,6.5,6.65,6.8,6.95,7.1,7.25,
     7.4,7.6,7.8,7.95,8.1,8.25,8.42,8.6,9.05,9.2,9.35,9.5,9.65,9.8,9.95,10.1,10.2,10.6,10.75,10.9,11.05,11.2,
     12.75],
    [0.1,0.25,0.4,0.55,0.7,0.82,0.95,1.1,1.25,1.4,1.55,1.7,1.85,2.05,2.6,2.75,2.9,3.05,3.2,3.35,3.5,3.65,3.8,
     3.95,4.1,4.25,4.45,4.6,4.75,4.9,5.05,5.2,5.35,5.5,5.65,5.8,5.95,6.1,6.25,6.4,6.55,6.7,6.85,7.0,7.15,7.3,
     7.45,7.6,7.8,7.95,8.1,8.3,8.5,8.7,8.85,9.35,9.5,9.95,10.1,10.25,10.4,10.6,10.75,10.9,11.05,11.2,12.0,
     13.0,13.2],
    [0.05,0.2,0.35,0.5,0.65,0.8,0.95,1.1,1.25,1.4,1.55,1.7,1.85,2.0,2.15,2.3,2.45,2.6,2.75,2.9,3.05,3.2,3.35,
     3.5,3.65,3.8,3.95,4.1,4.25,4.4,4.55,4.7,4.85,5.0,5.15,5.35,6.35,6.5,6.65,6.8,6.95,7.1,7.25,7.4,7.55,7.7,
     7.85,8.0,8.15,8.3,8.45,8.6,8.75,8.95,10.0,10.15,10.4,11.6,12.0],
    [0.35,0.5,0.65,0.8,0.95,1.1,1.25,1.4,1.55,1.7,1.85,2.0,2.15,2.3,2.45,2.65,2.85,3.05,3.25,3.45,3.65,3.85,
     4.05,4.25,4.5,4.7,5.5,5.8,5.95,6.1,6.25,6.4,6.55,6.7,6.85,7.0,7.15,7.3,7.45,7.6,7.75,7.9,8.05,8.2,8.35,
     8.5,8.65,8.8,8.95,9.1,9.3,9.5,9.7,9.9,10.1,10.75,12.9],
    [0.6,0.8,1.0,1.15,1.3,1.5,1.7,1.85,2.0,2.2,2.4,2.6,2.8,3.1,3.4,3.55,3.7,3.9,4.1,4.25,4.4,4.75,5.3,5.45,
     5.6,5.8,6.0,6.15,6.3,6.45,6.6,6.75,6.9,7.05,7.2,7.35,7.5,7.65,7.8,7.95,8.1,8.3,8.5,8.7,8.9,9.1,9.3,9.5,
     9.75,10.0,10.6,11.2],
    [0.45,0.6,0.75,0.95,1.15,1.35,1.6,1.95,2.15,2.35,2.55,2.75,2.95,3.15,3.4,3.75,3.95,4.15,4.35,4.55,4.75,
     4.95,5.2,5.4,5.6,5.8,5.95,6.2,6.4,6.55,6.7,6.85,7.0,7.2,7.4,7.55,7.7,7.9,8.1,8.3,8.5,8.7,8.9,9.1,9.3,
     9.55,9.8,10.0,13.15,13.85],
    [1.05,1.25,1.45,1.65,1.85,2.05,2.3,2.55,2.8,3.0,3.2,3.65,3.85,4.05,4.3,4.5,4.7,4.9,5.1,5.3,5.5,5.7,5.9,
     6.1,6.3,6.5,6.7,6.9,7.1,7.3,7.5,7.7,7.9,8.15,8.4,8.6,8.85,9.1,9.35,9.6,10.6,11.2],
    [0.8,0.95,1.15,1.35,1.6,1.85,2.1,2.3,2.55,2.8,3.1,3.35,3.55,3.75,4.0,4.2,4.45,4.75,5.0,5.2,5.4,5.6,5.85,
     6.05,6.25,6.45,6.7,6.9,7.1,7.3,7.55,7.8,8.0,8.2,8.45,8.7,8.95,9.2,9.4,9.65,9.9,10.2,10.5,10.8,12.75],
    [1.2,1.45,1.7,1.95,2.2,2.45,2.7,2.9,3.15,3.4,3.65,3.9,4.1,4.35,4.6,4.85,5.1,5.4,5.65,5.9,6.15,6.4,6.65,
     6.9,7.15,7.4,7.65,7.9,8.15,8.4,8.65,8.9,9.15,9.4,9.7,10.0,10.3,10.6,10.9,11.2,11.9],
    [0.95,1.3,1.8,2.1,2.4,2.75,3.1,3.45,3.8,4.2,4.55,4.95,5.3,5.7,6.1,6.5,6.9,7.25,7.6,7.95,8.3,8.7,9.1,9.5,
     9.9,10.35,11.0],
    [2.5,2.85,3.3,3.7,4.15,4.6,5.05,5.5,5.95,6.4,6.85,7.3,7.7,8.1,8.55,9.0,9.45,9.9,10.5],
    [1.15,1.4,2.0,2.3,2.6,2.9,3.2,3.5,3.8,4.1,4.4,4.7,5.0,5.3,5.6,5.9,6.2,6.5,6.8,7.1,7.4,7.7,8.0,8.3,8.6,
     8.9,9.2,9.5,9.75,10.0,11.6,12.0],
    [2.6,3.1,3.6,4.2,4.8,5.4,6.0,6.6,7.2,7.8,8.4,9.0,9.8],
    [0.2,0.35,2.2,2.55,2.9,3.25,3.6,3.95,4.3,4.65,5.0,5.35,5.7,6.05,6.4,6.75,7.1,7.45,7.8,8.15,8.5,8.85,9.2,
     9.55,9.9,10.3,10.7,11.4,11.6,12.75],
    [2.7,3.2,3.7,4.2,4.7,5.2,5.7,6.2,6.7,7.2,7.7,8.2,8.7,9.2,9.7,10.5,13.3],
    [1.45,1.6,2.3,2.7,3.1,3.5,3.9,4.3,4.7,5.1,5.5,5.9,6.3,6.7,7.1,7.5,7.9,8.3,8.7,9.1,9.5,9.9,10.2,11.9],
    [2.9,3.3,3.7,4.1,4.5,4.9,5.3,5.7,6.1,6.5,6.9,7.3,7.7,8.1,8.5,8.9,9.3,9.7,10.1,10.7,12.0,12.3],
    [1.9,2.0,3.2,3.6,4.0,4.4,4.8,5.2,5.6,6.0,6.4,6.8,7.2,7.6,8.0,8.4,8.8,9.2,9.8,11.6,12.3],
    [3.8,4.3,4.8,5.3,5.8,6.3,6.8,7.3,7.8,8.3,8.8,9.3,9.8,10.6,11.8],
    [2.6,4.0,4.5,5.0,5.6,6.2,6.8,7.4,8.0,8.6,9.2,9.8,10.4,10.9,12.7],
    [4.1,4.3,4.5,5.4,6.0,6.6,7.2,7.8,8.4,9.0,9.6,10.4,12.8,13.5],
    [5.2,5.65,6.5,7.1,7.7,8.3,8.9,9.5,10.0,10.6],
]
f_extra = [
    (0.30,2.90),(1.27,2.96),(1.95,3.22),(2.68,3.38),(2.43,0.65),(1.55,1.05),(2.85,1.05),(3.30,1.33),(4.75,1.55),
    (2.45,1.76),(2.35,1.90),(5.20,3.57),(5.55,3.52),(6.90,3.68),(7.20,3.70),(7.35,3.65),(7.60,3.60),(7.80,3.62),
    (8.20,3.65),(8.25,3.72),(8.50,3.70),(9.30,3.72),(9.45,3.70),(7.70,3.82),(8.00,3.85),(8.15,3.88),(8.30,3.90),
    (7.60,4.02),(8.60,3.92),(7.90,3.55),(9.05,3.55),(9.40,3.45),(10.30,3.45),(10.40,3.45),(10.80,3.50),
    (10.90,3.45),(9.90,3.55),(8.75,3.58),(12.95,2.05),(12.95,1.97),(13.00,1.90),(14.38,3.05),(14.70,2.95),
    (13.49,3.34),(12.80,3.41),(14.60,3.00),(14.55,2.85),(14.30,2.20),
    (14.90,3.70),(14.95,3.65),(14.95,3.60),(15.00,3.55),(14.95,3.50),(15.00,3.45),(14.90,3.40),(14.95,3.35),
    (15.00,3.30),(14.90,3.25),(14.95,3.20),(15.00,3.15),(14.95,3.05),(14.90,3.00),(15.00,2.90),(14.95,2.80),
    (15.00,2.70),(14.95,2.60),(15.00,2.50),(14.95,2.40),(15.00,2.30),(14.90,3.55),(14.90,3.15),(14.95,2.95),
    (15.00,3.60),(15.00,3.40),(14.90,3.45),(15.00,3.25),
]
f_fit_x = [0.0, 14.86]
f_fit_y = [1.22, 2.92]

# ---------------- assemble ----------------
b_all = b_points + [(x, 0.0) for x in b_zero_x]
e_all = e_points + e_core + [(x, 0.0) for x in e_zero_x]
f_all = f_extra + [(x, lvl) for lvl, row in zip(f_levels, f_rows) for x in row]


def px(x):
    return x / W


def py(y):
    return 1 - y / H


panels = [
    dict(letter="a.", title="Maryland Macroinvertebrates", pts=a_points, fit=None, stat=None,
         xdom=(41, 443), ydom=(52, 404), xr=[10.85, 20.0], yr=[-0.154, 3.23],
         xt=[12.5, 15.0, 17.5], xtt=["12.5", "15.0", "17.5"], yt=[0, 1, 2, 3], ytt=["0", "1", "2", "3"],
         head=(38.5, 45.5, 16.4, 42.4), xlab=(241, 424.5), ylab=(20.5, 228)),
    dict(letter="b.", title="Maryland Fish", pts=b_all, fit=(b_fit_x, b_fit_y),
         stat=("R<sup>2</sup> = 0.46&nbsp;&nbsp;&nbsp;&nbsp;p &lt; 0.001", 3.2, 2.452),
         xdom=(470.7, 859), ydom=(53, 404), xr=[2.66, 11.23], yr=[-0.405, 2.876],
         xt=[5.0, 7.5, 10.0], xtt=["5.0", "7.5", "10.0"], yt=[0, 1, 2], ytt=["0", "1", "2"],
         head=(468.5, 475.5, 16.4, 42.4), xlab=(669.7, 424.5), ylab=(450.5, 228)),
    dict(letter="c.", title="North Carolina Macroinvertebrates", pts=c_points, fit=(c_fit_x, c_fit_y),
         stat=("R<sup>2</sup> &lt; 0.001&nbsp;&nbsp;&nbsp;&nbsp;p = 0.02", 11.70, 1.0),
         xdom=(41, 443), ydom=(480, 833.3), xr=[11.37, 24.01], yr=[0.589, 4.62],
         xt=[12, 15, 18, 21], xtt=["12", "15", "18", "21"], yt=[1, 2, 3, 4], ytt=["1", "2", "3", "4"],
         head=(38.5, 45.5, 445.7, 469.7), xlab=(241, 854), ylab=(20.5, 656.5)),
    dict(letter="d.", title="North Carolina Fish", pts=d_points, fit=(d_fit_x, d_fit_y),
         stat=("R<sup>2</sup> = 0.06&nbsp;&nbsp;&nbsp;&nbsp;p &lt; 0.001", 15.54, 0.697),
         xdom=(482.7, 859), ydom=(480, 832.7), xr=[15.24, 19.70], yr=[0.430, 2.862],
         xt=[16, 17, 18, 19], xtt=["16", "17", "18", "19"], yt=[0.5, 1.0, 1.5, 2.0, 2.5],
         ytt=["0.5", "1.0", "1.5", "2.0", "2.5"],
         head=(480.5, 487, 445.7, 469.7), xlab=(675.8, 854), ylab=(450.5, 656.5)),
    dict(letter="e.", title="Contiguous USA Macroinvertebrates", pts=e_all, fit=(e_fit_x, e_fit_y),
         stat=("R<sup>2</sup> = 0.09&nbsp;&nbsp;&nbsp;&nbsp;p &lt; 0.001", 0.634, 0.50),
         xdom=(41, 443), ydom=(910, 1262.7), xr=[-0.71, 15.73], yr=[-0.223, 4.88],
         xt=[0, 5, 10, 15], xtt=["0", "5", "10", "15"], yt=[0, 1, 2, 3, 4], ytt=["0", "1", "2", "3", "4"],
         head=(38.5, 45.5, 874.1, 899.1), xlab=(241, 1284.5), ylab=(20.5, 1086.5)),
    dict(letter="f.", title="Contiguous USA Fish", pts=f_all, fit=(f_fit_x, f_fit_y),
         stat=("R<sup>2</sup> = 0.08&nbsp;&nbsp;&nbsp;&nbsp;p &lt; 0.001", 0.663, 0.388),
         xdom=(470, 859), ydom=(910, 1262.7), xr=[-0.73, 15.30], yr=[-0.200, 4.22],
         xt=[0, 5, 10, 15], xtt=["0", "5", "10", "15"], yt=[0, 1, 2, 3, 4], ytt=["0", "1", "2", "3", "4"],
         head=(468.5, 474.5, 874.1, 899.1), xlab=(669.7, 1284.5), ylab=(450.5, 1086.5)),
]

fig = go.Figure()
annotations = []
layout = dict(width=W, height=H, margin=dict(l=0, r=0, t=0, b=0), paper_bgcolor="white",
              plot_bgcolor="white", showlegend=False, font=dict(family=FONT, color="black"))

tickfont = dict(family=FONT, size=14, color=TICK_GREY)
for i, p in enumerate(panels, start=1):
    sfx = "" if i == 1 else str(i)
    xa, ya = "x" + sfx, "y" + sfx
    xs = [q[0] for q in p["pts"]]
    ys = [q[1] for q in p["pts"]]
    fig.add_trace(go.Scatter(x=xs, y=ys, mode="markers", xaxis=xa, yaxis=ya, hoverinfo="skip",
                             marker=dict(size=4, color="black", line=dict(width=0))))
    if p["fit"]:
        fig.add_trace(go.Scatter(x=p["fit"][0], y=p["fit"][1], mode="lines", xaxis=xa, yaxis=ya,
                                 hoverinfo="skip", line=dict(color="black", width=2.6)))
    layout["xaxis" + sfx] = dict(
        domain=[px(p["xdom"][0]), px(p["xdom"][1])], range=p["xr"], anchor=ya,
        showline=True, linecolor="black", linewidth=2, showgrid=False, zeroline=False,
        ticks="", ticklabelstandoff=-6, tickvals=p["xt"], ticktext=p["xtt"], tickfont=tickfont,
        fixedrange=True)
    layout["yaxis" + sfx] = dict(
        domain=[py(p["ydom"][1]), py(p["ydom"][0])], range=p["yr"], anchor=xa,
        showline=True, linecolor="black", linewidth=2, showgrid=False, zeroline=False,
        ticks="", tickvals=p["yt"], ticktext=p["ytt"], tickfont=tickfont, fixedrange=True)

    lx, tx, ly, ty = p["head"]
    annotations.append(dict(text=p["letter"], x=px(lx), y=py(ly), xref="paper", yref="paper",
                            xanchor="left", yanchor="middle", showarrow=False,
                            font=dict(family=FONT, size=22, color="black")))
    annotations.append(dict(text=p["title"], x=px(tx), y=py(ty), xref="paper", yref="paper",
                            xanchor="left", yanchor="middle", showarrow=False,
                            font=dict(family=FONT, size=22, color="black")))
    annotations.append(dict(text="Log Watershed Area", x=px(p["xlab"][0]), y=py(p["xlab"][1]),
                            xref="paper", yref="paper", xanchor="center", yanchor="middle",
                            showarrow=False, font=dict(family=FONT, size=18, color="black")))
    annotations.append(dict(text="Shannon Diversity", x=px(p["ylab"][0]), y=py(p["ylab"][1]),
                            xref="paper", yref="paper", xanchor="center", yanchor="middle",
                            textangle=-90, showarrow=False, font=dict(family=FONT, size=18, color="black")))
    if p["stat"]:
        txt, sx, sy = p["stat"]
        annotations.append(dict(text=txt, x=sx, y=sy, xref=xa, yref=ya, xanchor="left", yanchor="middle",
                                showarrow=False, font=dict(family=FONT, size=22, color="black")))

layout["annotations"] = annotations
fig.update_layout(**layout)
fig.write_html("out.html", config={"displayModeBar": False})
